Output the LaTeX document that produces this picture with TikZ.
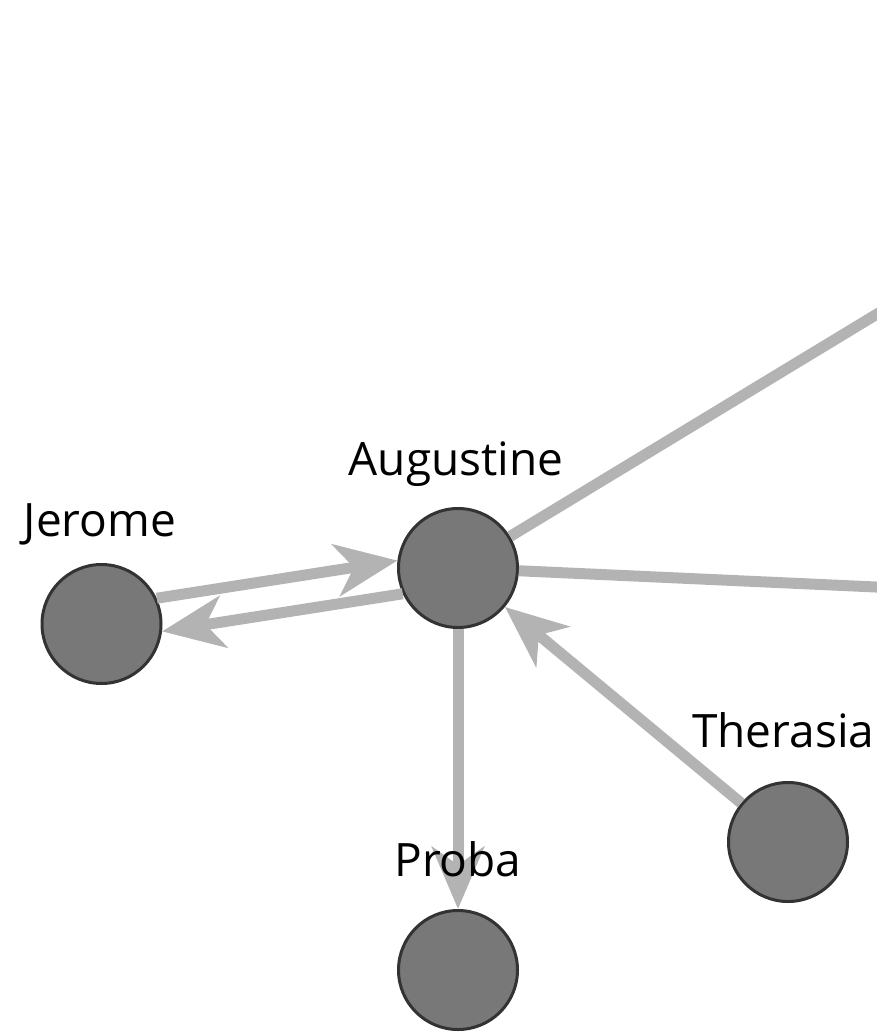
\documentclass[tikz,border=0pt]{standalone}
\usepackage{fontspec}
\setmainfont{Open Sans}
\usetikzlibrary{arrows.meta,calc}
\definecolor{edgegray}{HTML}{B3B3B3}
\definecolor{nodegray}{HTML}{787878}
\definecolor{rimgray}{HTML}{333333}
\begin{document}
\begin{tikzpicture}[x=1pt,y=-1pt,
  person/.style={circle,fill=nodegray,draw=rimgray,line width=3pt,minimum size=119pt,inner sep=0pt},
  tag/.style={font=\fontsize{46}{52}\selectfont,anchor=base,inner sep=0pt},
  link/.style={draw=edgegray,line width=11pt},
  arr/.style={link,-{Stealth[length=62pt,width=52pt,inset=18pt]}}]
\useasboundingbox (0,0) rectangle (877,1033);
\clip (0,0) rectangle (877,1033);

% people
\node[person] (J) at (101.5,624) {};
\node[person] (A) at (458,568) {};
\node[person] (P) at (458,970) {};
\node[person] (T) at (788,842) {};

% links running off to the right
\coordinate (ne) at (920,288);
\coordinate (ea) at (920,589);
\draw[link] (A) -- (ne);
\draw[link] (A) -- (ea);

% directed links
\draw[arr] (J.25) -- (A.173);
\draw[arr] (A.205) -- (J.-7);
\draw[arr] (A) -- (P);
\draw[arr] (T) -- (A);

% names, set over the links
\node[tag] (Jl) at (100,536) {Jerome};
\node[tag] (Al) at (456,475) {Augustine};
\node[tag] (Pl) at (458,876) {Proba};
\node[tag,anchor=base west] (Tl) at (692,747) {Therasia};
\end{tikzpicture}
\end{document}
